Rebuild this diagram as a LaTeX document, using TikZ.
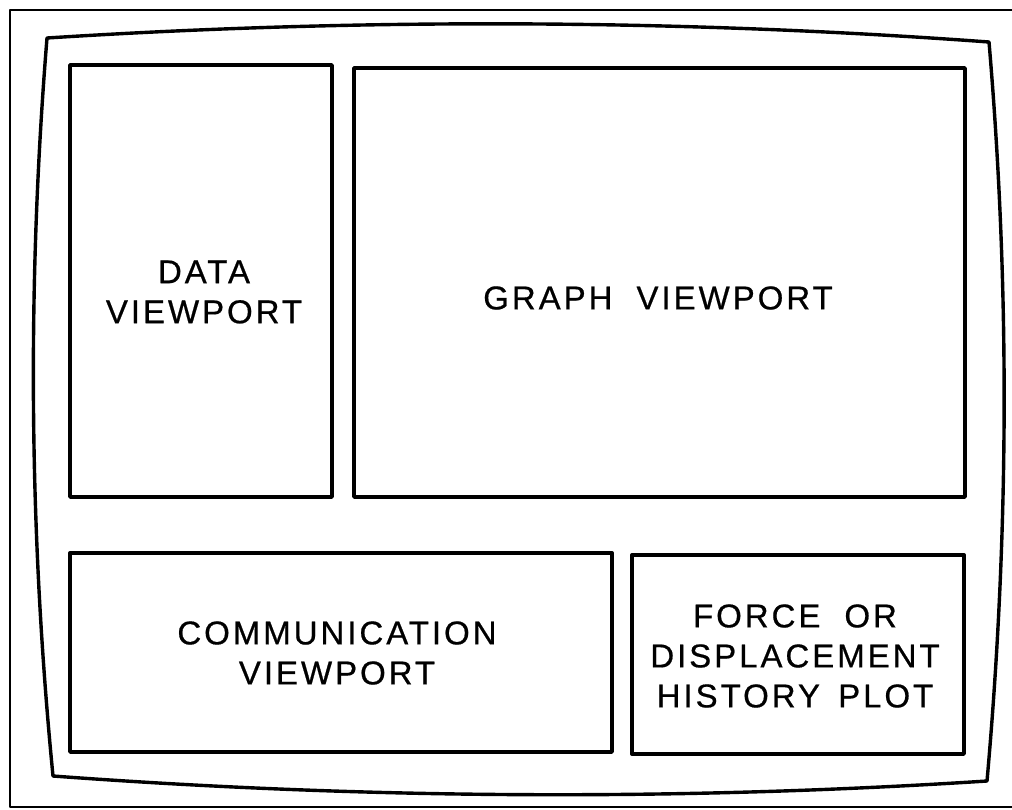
\documentclass[tikz,border=0pt]{standalone}
\usepackage{fontspec}
\setmainfont{Liberation Sans}[LetterSpace=9,FakeBold=0.6]
\begin{document}
\begin{tikzpicture}[x=1pt,y=-1pt,
  frameline/.style={line width=2.8pt,line join=round},
  screenline/.style={line width=3.4pt,line join=round},
  viewport/.style={line width=3.4pt,line join=round},
  label/.style={align=center,font=\fontsize{33}{40}\selectfont,inner sep=0pt}]
\useasboundingbox (0,0) rectangle (1012,809);

% outer panel edge (open on the right)
\draw[frameline] (1016,10) -- (10,10) -- (10,807) -- (1016,807);

% curved screen outline
\coordinate (tl) at (47,38);
\coordinate (tr) at (989,42);
\coordinate (br) at (987,781);
\coordinate (bl) at (53,776);
\draw[screenline] (tl)
  .. controls (361,18) and (675,19) .. (tr)
  .. controls (1010,288) and (1009,534) .. (br)
  .. controls (676,801) and (364,799) .. (bl)
  .. controls (29,531) and (27,285) .. cycle;

% viewports
\draw[viewport] (70,65) rectangle (332,497);
\draw[viewport] (354,68) rectangle (965,497);
\draw[viewport] (70,553) rectangle (612,752);
\draw[viewport] (632,555) rectangle (964,754);

% labels
\node[label] (data) at (204,292) {DATA\\VIEWPORT};
\node[label] (graph) at (658,298) {GRAPH\hspace{24pt}VIEWPORT};
\node[label] (comm) at (337,653) {COMMUNICATION\\VIEWPORT};
\node[label] (force) at (795,656) {FORCE\hspace{24pt}OR\\DISPLACEMENT\\HISTORY\hspace{6pt} PLOT};
\end{tikzpicture}
\end{document}
